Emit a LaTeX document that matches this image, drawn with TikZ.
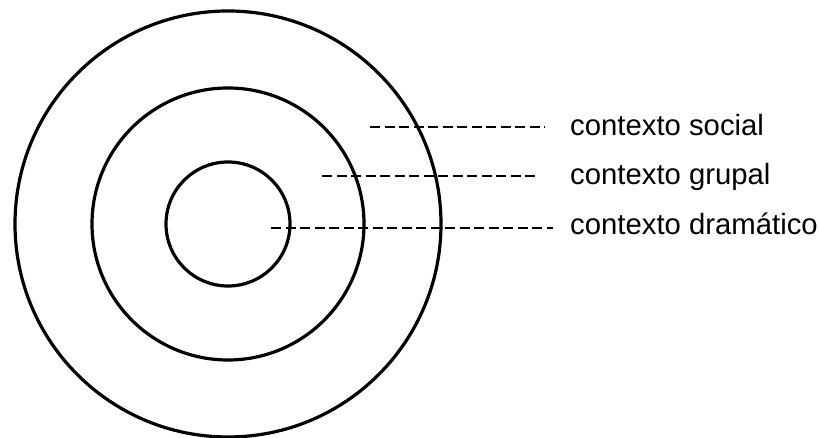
\documentclass[tikz,border=0pt]{standalone}
\usepackage{fontspec}
\setmainfont{Liberation Sans}
\usetikzlibrary{positioning}

\begin{document}
\begin{tikzpicture}[
  x=1pt, y=1pt,
  ring/.style={draw, line width=3.2pt},
  guide/.style={line width=2.6pt, dash pattern=on 10pt off 4.5pt},
  ctxtext/.style={anchor=base west, inner sep=0pt, font=\fontsize{29.3}{34}\selectfont}
]
\useasboundingbox (0,0) rectangle (819,438);

\coordinate (centre) at (228,214);
\draw[ring] (centre) circle[radius=213];
\draw[ring] (centre) circle[radius=136];
\draw[ring] (centre) circle[radius=62];

\node[ctxtext] (social) at (570,302) {contexto social};
\node[ctxtext] (grupal) at (570,253) {contexto grupal};
\node[ctxtext] (dram) at (570,203) {contexto dramático};

\coordinate (social-a) at (370,311);
\coordinate (social-b) at (545,311);
\coordinate (grupal-a) at (322,262);
\coordinate (grupal-b) at (535,262);
\coordinate (dram-a) at (271,210);
\coordinate (dram-b) at (553,210);

\draw[guide] (social-a) -- (social-b);
\draw[guide] (grupal-a) -- (grupal-b);
\draw[guide] (dram-a) -- (dram-b);

\end{tikzpicture}
\end{document}
